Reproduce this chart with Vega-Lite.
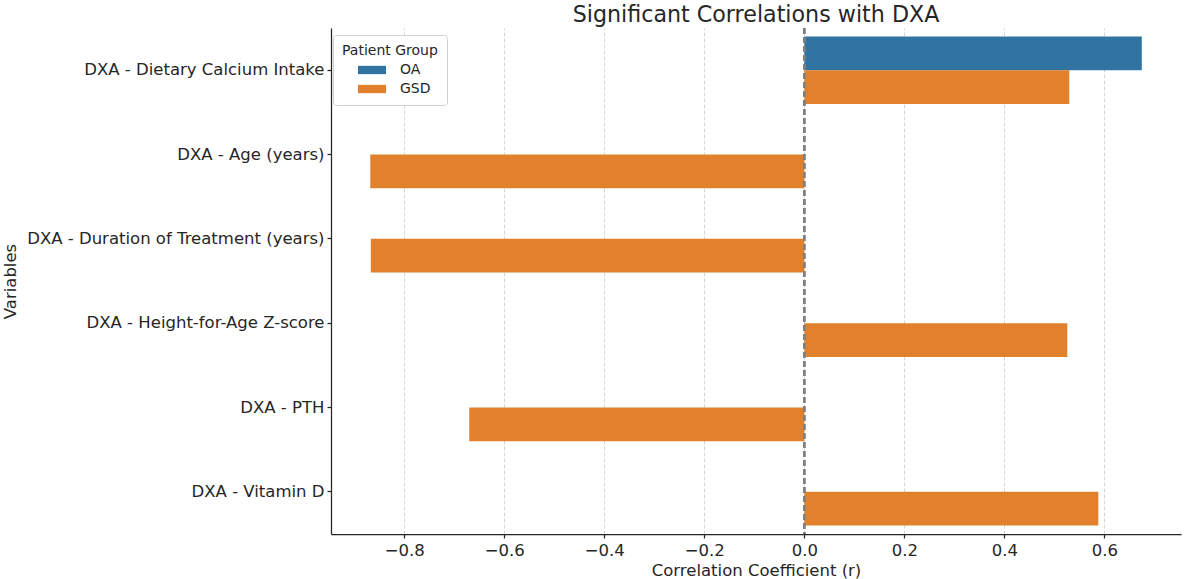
{
  "$schema": "https://vega.github.io/schema/vega-lite/v6.json",
  "autosize": "none",
  "padding": {"left": 331, "top": 28, "right": 5, "bottom": 45},
  "width": 850,
  "height": 506,
  "background": "white",
  "config": {
    "font": "DejaVu Sans",
    "view": {"stroke": null},
    "axis": {
      "labelFont": "DejaVu Sans",
      "titleFont": "DejaVu Sans",
      "labelColor": "#262626",
      "titleColor": "#262626",
      "labelFontSize": 16.5,
      "titleFontSize": 16.5,
      "titleFontWeight": "normal",
      "domainColor": "#262626",
      "domainWidth": 1.25,
      "tickColor": "#262626",
      "tickWidth": 1.25,
      "tickSize": 4
    },
    "legend": {
      "labelFont": "DejaVu Sans",
      "titleFont": "DejaVu Sans"
    }
  },
  "title": {
    "text": "Significant Correlations with DXA",
    "fontSize": 22.2,
    "fontWeight": "normal",
    "color": "#262626",
    "font": "DejaVu Sans",
    "offset": 1
  },
  "data": {
    "values": [
      {"variable": "DXA - Dietary Calcium Intake", "group": "OA", "r": 0.675},
      {"variable": "DXA - Dietary Calcium Intake", "group": "GSD", "r": 0.530},
      {"variable": "DXA - Age (years)", "group": "GSD", "r": -0.868},
      {"variable": "DXA - Duration of Treatment (years)", "group": "GSD", "r": -0.867},
      {"variable": "DXA - Height-for-Age Z-score", "group": "GSD", "r": 0.526},
      {"variable": "DXA - PTH", "group": "GSD", "r": -0.670},
      {"variable": "DXA - Vitamin D", "group": "GSD", "r": 0.588}
    ]
  },
  "layer": [
    {
      "mark": {"type": "bar"},
      "encoding": {
        "y": {
          "field": "variable",
          "type": "nominal",
          "sort": null,
          "scale": {"paddingInner": 0.2, "paddingOuter": 0.1},
          "axis": {
            "title": "Variables",
            "titleX": -321,
            "titleY": 253,
            "titleAngle": -90,
            "titleAlign": "center",
            "titleBaseline": "middle",
            "labelPadding": 3,
            "labelLimit": 400
          }
        },
        "yOffset": {
          "field": "group",
          "type": "nominal",
          "scale": {"domain": ["OA", "GSD"]}
        },
        "x": {
          "field": "r",
          "type": "quantitative",
          "scale": {"domain": [-0.9466, 0.7534], "nice": false, "zero": false},
          "axis": {
            "title": "Correlation Coefficient (r)",
            "values": [-0.8, -0.6, -0.4, -0.2, 0, 0.2, 0.4, 0.6],
            "labelExpr": "replace(format(datum.value, '.1f'), '-', '\u2212')",
            "grid": true,
            "gridColor": "#cccccc",
            "gridDash": [4, 2],
            "gridWidth": 0.8,
            "labelPadding": 4,
            "titlePadding": 4
          }
        },
        "color": {
          "field": "group",
          "type": "nominal",
          "scale": {"domain": ["OA", "GSD"], "range": ["#3274a1", "#e1812c"]},
          "legend": {
            "title": "Patient Group",
            "orient": "none",
            "legendX": 2,
            "legendY": 7,
            "titleFontSize": 14,
            "titleFontWeight": "normal",
            "titleColor": "#262626",
            "labelFontSize": 14,
            "labelColor": "#262626",
            "symbolType": "M-2.8,-0.83H2.8V0.83H-2.8Z",
            "symbolSize": 100,
            "symbolStrokeWidth": 0,
            "symbolOpacity": 1,
            "symbolOffset": 23,
            "strokeColor": "#d0d0d0",
            "fillColor": "white",
            "cornerRadius": 3,
            "padding": 9,
            "rowPadding": 5,
            "labelOffset": 21,
            "titlePadding": 5
          }
        }
      }
    },
    {
      "mark": {"type": "rule", "color": "#808080", "strokeDash": [6, 3], "strokeWidth": 1.8},
      "encoding": {"x": {"datum": 0}}
    }
  ]
}
